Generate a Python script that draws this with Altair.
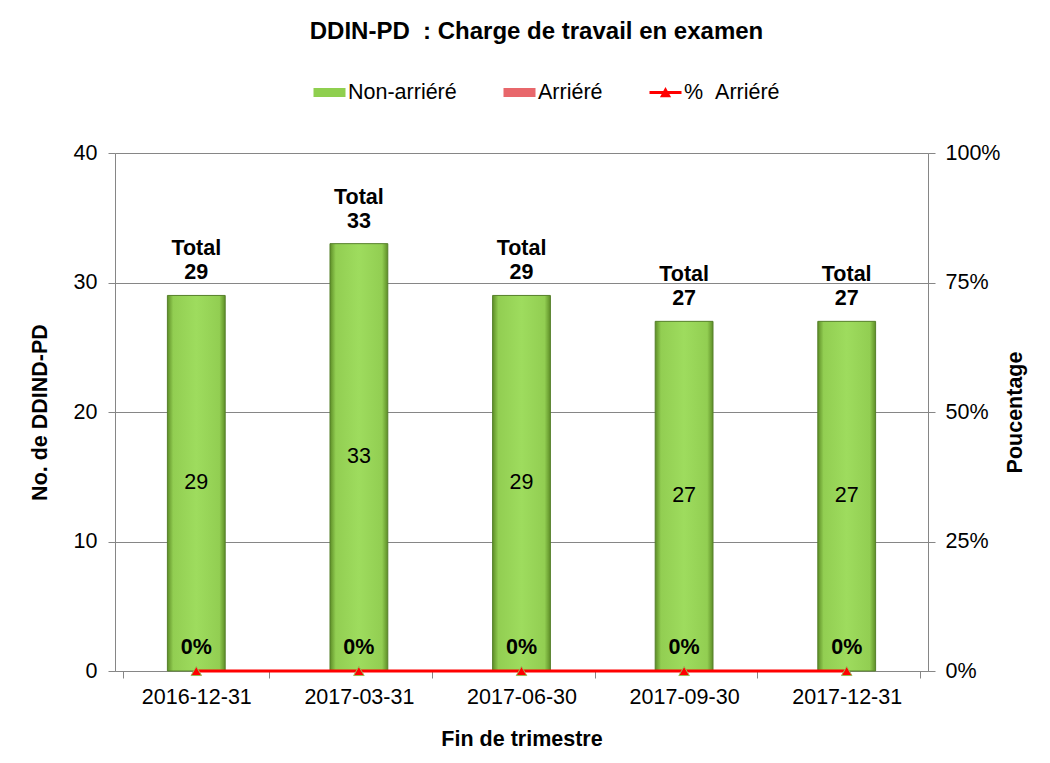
import altair as alt
import pandas as pd

dates = ["2016-12-31", "2017-03-31", "2017-06-30", "2017-09-30", "2017-12-31"]
non_arriere = [29, 33, 29, 27, 27]
arriere = [0, 0, 0, 0, 0]
pct_arriere = [0.0, 0.0, 0.0, 0.0, 0.0]
series_names = ["Non-arriéré", "Arriéré", "%\u00a0\u00a0Arriéré"]
series_colors = ["#8fcf4f", "#e8676b", "#ff0000"]

FONT = "Liberation Sans"
FS = 21.5

df = pd.DataFrame({
    "date": dates,
    "non": non_arriere,
    "arr": arriere,
    "pct": pct_arriere,
})
df["total"] = df["non"] + df["arr"]
df["mid"] = df["non"] / 2
df["series"] = series_names[2]

x_enc = alt.X(
    "date:N", sort=dates, title="Fin de trimestre",
    axis=alt.Axis(labelAngle=0, labelFontSize=FS, labelFont=FONT, labelColor="black",
                  titleFont=FONT, titleFontSize=FS, titleFontWeight="bold", titleColor="black",
                  titlePadding=21, labelPadding=8, tickBand="extent", tickSize=7,
                  tickColor="#868686", domainColor="#868686"),
)

y_left = alt.Y(
    "non:Q", title="No. de DDIND-PD",
    scale=alt.Scale(domain=[0, 40], nice=False),
    axis=alt.Axis(values=[0, 10, 20, 30, 40], grid=True, gridColor="#868686",
                  domainColor="#868686", tickColor="#868686", tickSize=7,
                  labelFontSize=FS, labelFont=FONT, labelColor="black", labelPadding=11,
                  titleFont=FONT, titleFontSize=FS, titleFontWeight="bold", titleColor="black",
                  titlePadding=22),
)

green_grad = alt.Gradient(
    gradient="linear", x1=0, x2=1, y1=0, y2=0,
    stops=[
        alt.GradientStop(color="#5e8e27", offset=0),
        alt.GradientStop(color="#92ce52", offset=0.1),
        alt.GradientStop(color="#9edc5e", offset=0.5),
        alt.GradientStop(color="#92ce52", offset=0.9),
        alt.GradientStop(color="#5e8e27", offset=1),
    ],
)

base = alt.Chart(df)

bars = base.mark_bar(width=alt.RelativeBandSize(0.395), color=green_grad,
                     stroke="#56802a", strokeWidth=1).encode(x=x_enc, y=y_left)

inner = base.mark_text(font=FONT, fontSize=FS, color="black").encode(
    x=alt.X("date:N", sort=dates), y=alt.Y("mid:Q"), text=alt.Text("non:Q"))

totals = base.transform_calculate(
    lab="['Total', '' + datum.total]"
).mark_text(font=FONT, fontSize=FS, fontWeight="bold", color="black",
            baseline="bottom", dy=-35, lineHeight=24).encode(
    x=alt.X("date:N", sort=dates), y=alt.Y("total:Q"), text="lab:N")

left = alt.layer(bars, inner, totals)

y_right = alt.Y(
    "pct:Q", title="Poucentage",
    scale=alt.Scale(domain=[0, 1], nice=False),
    axis=alt.Axis(orient="right", values=[0, 0.25, 0.5, 0.75, 1], format=".0%", grid=False,
                  domainColor="#868686", tickColor="#868686", tickSize=7,
                  labelFontSize=FS, labelFont=FONT, labelColor="black", labelPadding=10,
                  titleFont=FONT, titleFontSize=FS, titleFontWeight="bold", titleColor="black",
                  titleAngle=270, titleBaseline="bottom", titlePadding=27),
)

line = base.mark_line(color="#ff0000", strokeWidth=3).encode(
    x=alt.X("date:N", sort=dates), y=y_right)

tri = base.mark_point(shape="triangle-up", filled=True, fill="#ff0000", stroke="#9bbb59",
                      strokeWidth=1, size=110, opacity=1).encode(
    x=alt.X("date:N", sort=dates), y=alt.Y("pct:Q"))

pct_lab = base.mark_text(font=FONT, fontSize=FS, fontWeight="bold", color="black",
                         baseline="bottom", dy=-12).encode(
    x=alt.X("date:N", sort=dates), y=alt.Y("pct:Q"), text=alt.Text("pct:Q", format=".0%"))

leg = alt.Legend(title=None, orient="none", legendX=198, legendY=-77, direction="horizontal",
                 columns=3, columnPadding=44, symbolSize=1024, symbolOpacity=1,
                 labelFont=FONT, labelFontSize=FS, labelColor="black", labelOffset=2,
                 symbolStrokeWidth=1)

legend_layer = base.mark_point(filled=True, opacity=0).encode(
    x=alt.X("date:N", sort=dates), y=alt.Y("pct:Q"),
    color=alt.Color("series:N", scale=alt.Scale(domain=series_names, range=series_colors),
                    legend=leg),
    shape=alt.Shape("series:N", scale=alt.Scale(
        domain=series_names,
        range=["M-1,-0.28H1V0.28H-1Z", "M-1,-0.28H1V0.28H-1Z",
               "M-1,-0.1H1V0.1H-1Z M-0.35,0.3L0,-0.35L0.35,0.3Z"]), legend=leg),
)

right = alt.layer(line, tri, pct_lab, legend_layer)

chart = alt.layer(left, right).resolve_scale(y="independent").properties(
    width=813, height=518,
    autosize=alt.AutoSizeParams(type="none"),
    padding={"left": 107, "top": 145, "right": 110, "bottom": 80},
    title=alt.TitleParams(text="DDIN-PD\u00a0 : Charge de travail en examen", font=FONT,
                          fontSize=24, fontWeight="bold", color="black", anchor="middle",
                          offset=32, dx=15),
).configure_view(stroke=None).configure(background="white")

chart.save("out.html", embed_options={"renderer": "svg", "actions": False})
